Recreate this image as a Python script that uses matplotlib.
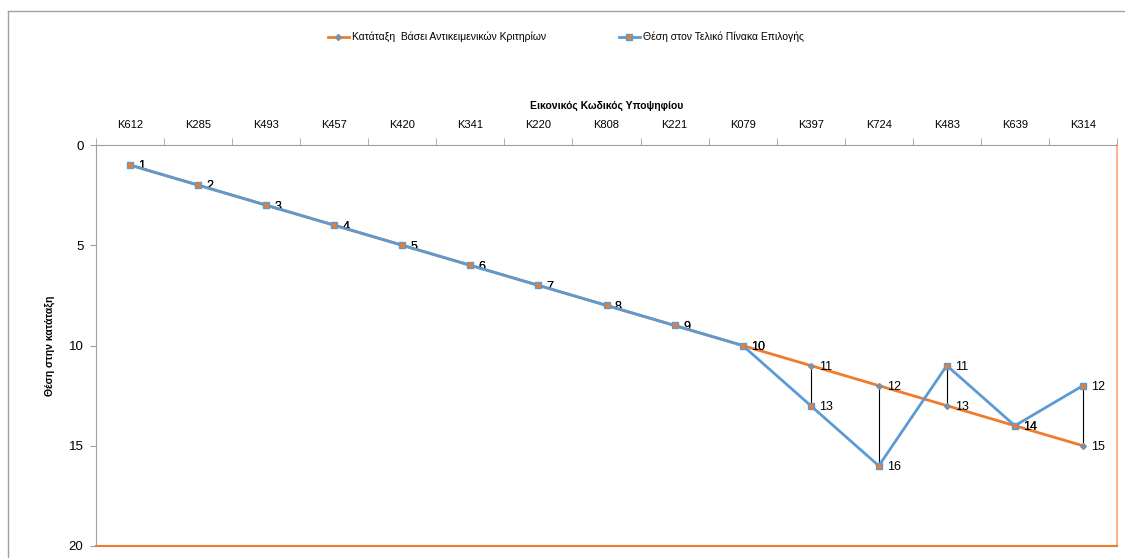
import numpy as np
import matplotlib
matplotlib.use('Agg')
import matplotlib.pyplot as plt
from matplotlib.lines import Line2D

plt.rcParams['font.family'] = ['Liberation Sans', 'DejaVu Sans']

# Data
candidates = ['K612', 'K285', 'K493', 'K457', 'K420', 'K341', 'K220', 'K808',
              'K221', 'K079', 'K397', 'K724', 'K483', 'K639', 'K314']
objective_rank = [1, 2, 3, 4, 5, 6, 7, 8, 9, 10, 11, 12, 13, 14, 15]
final_rank = [1, 2, 3, 4, 5, 6, 7, 8, 9, 10, 13, 16, 11, 14, 12]
y_ticks = [0, 5, 10, 15, 20]

orange = '#F07B2C'
blue = '#5B9BD5'

fig = plt.figure(figsize=(11.25, 5.58), dpi=100)
ax = fig.add_axes([96 / 1125, 1 - 546 / 558, (1117 - 96) / 1125, (546 - 145) / 558])

x = np.arange(len(candidates))

# high-low lines between the two series
ax.vlines(x, objective_rank, final_rank, color='black', lw=0.8, zorder=2)

ax.plot(x, objective_rank, color=orange, lw=2, marker='D', markersize=3,
        markerfacecolor='#7F8FA6', markeredgecolor='#7F8FA6', zorder=3,
        label='Κατάταξη  Βάσει Αντικειμενικών Κριτηρίων')
ax.plot(x, final_rank, color=blue, lw=2, marker='s', markersize=5,
        markerfacecolor=orange, markeredgecolor=blue, markeredgewidth=1, zorder=4,
        label='Θέση στον Τελικό Πίνακα Επιλογής')

# data labels
for xi, v in zip(x, objective_rank):
    ax.annotate(str(v), (xi, v), textcoords='offset points', xytext=(6, -1),
                ha='left', va='center', fontsize=9)
for xi, v in zip(x, final_rank):
    ax.annotate(str(v), (xi, v), textcoords='offset points', xytext=(6, -1),
                ha='left', va='center', fontsize=9)

ax.set_xlim(-0.5, len(candidates) - 0.5)
ax.set_ylim(20, 0)
ax.set_yticks(y_ticks)
ax.tick_params(axis='y', labelsize=9.5, length=4, color='#A0A0A0', pad=5)

ax.xaxis.tick_top()
ax.set_xticks(x)
ax.set_xticklabels(candidates, fontsize=8)
ax.set_xticks(np.arange(-0.5, len(candidates)), minor=True)
ax.tick_params(axis='x', which='major', length=0, pad=11)
ax.tick_params(axis='x', which='minor', length=5, color='#A0A0A0')
ax.xaxis.set_label_position('top')
ax.set_xlabel('Εικονικός Κωδικός Υποψηφίου', fontsize=7.5, fontweight='bold', labelpad=8)
ax.set_ylabel('Θέση στην κατάταξη', fontsize=7.5, fontweight='bold', labelpad=10)

for s in ['top', 'left']:
    ax.spines[s].set_color('#A0A0A0')
ax.spines['bottom'].set_color(orange)
ax.spines['bottom'].set_linewidth(1.5)
ax.spines['right'].set_color('#F8B48A')
ax.spines['right'].set_linewidth(1.5)

fig.legend(loc='center', bbox_to_anchor=(0.503, 1 - 37 / 558), ncol=2,
           frameon=False, fontsize=7.5, columnspacing=7, handlelength=2.0,
           handletextpad=0.3)

# outer chart border
fig.add_artist(Line2D([8 / 1125, 1], [1 - 11 / 558, 1 - 11 / 558], color='#A0A0A0', lw=1))
fig.add_artist(Line2D([8 / 1125, 8 / 1125], [0, 1 - 11 / 558], color='#A0A0A0', lw=1))

fig.savefig('out.png', dpi=100)
